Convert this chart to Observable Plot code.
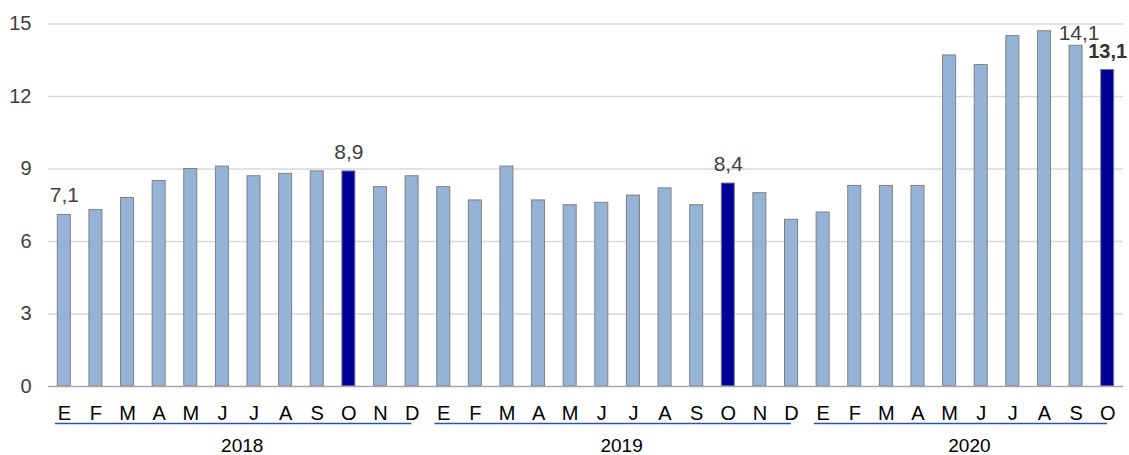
<!DOCTYPE html>
<html>
<head>
<meta charset="utf-8">
<script src="https://cdn.jsdelivr.net/npm/d3@7"></script>
<script src="https://cdn.jsdelivr.net/npm/@observablehq/plot@0.6"></script>
<style>
  html, body { margin: 0; padding: 0; background: #fff; }
  #chart svg { display: block; }
</style>
</head>
<body>
<div id="chart"></div>
<script>
// ---- data ----
const years = ["2018", "2019", "2020"];
const months2018 = ["E", "F", "M", "A", "M", "J", "J", "A", "S", "O", "N", "D"];
const months2019 = ["E", "F", "M", "A", "M", "J", "J", "A", "S", "O", "N", "D"];
const months2020 = ["E", "F", "M", "A", "M", "J", "J", "A", "S", "O"];
const values2018 = [7.1, 7.3, 7.8, 8.5, 9.0, 9.1, 8.7, 8.8, 8.9, 8.9, 8.25, 8.7];
const values2019 = [8.25, 7.7, 9.1, 7.7, 7.5, 7.6, 7.9, 8.2, 7.5, 8.4, 8.0, 6.9];
const values2020 = [7.2, 8.3, 8.3, 8.3, 13.7, 13.3, 14.5, 14.7, 14.1, 13.1];
const yTicks = [0, 3, 6, 9, 12, 15];
const highlightMonth = "O";
const labelKeys = ["2018-0", "2018-9", "2019-9"];
const topLabelKeys = ["2020-8"];
const boldLabelKeys = ["2020-9"];

// ---- build table ----
const monthsByYear = [months2018, months2019, months2020];
const valuesByYear = [values2018, values2019, values2020];
const rows = [];
years.forEach((yr, j) => {
  monthsByYear[j].forEach((m, i) => {
    rows.push({ key: `${yr}-${i}`, year: yr, month: m, value: valuesByYear[j][i] });
  });
});
const monthOf = new Map(rows.map(d => [d.key, d.month]));
const fmt = v => v.toFixed(1).replace(".", ",");

const width = 1129, height = 455;
const marginLeft = 48, marginRight = 6, marginTop = 23.5, marginBottom = 69;
const step = (width - marginLeft - marginRight) / rows.length;

const yearSpans = years.map((yr, j) => {
  const n = monthsByYear[j].length;
  return {
    year: yr,
    first: `${yr}-0`,
    last: `${yr}-${n - 1}`,
    mid: `${yr}-${Math.floor(n / 2)}`,
    even: n % 2 === 0
  };
});

const light = "#95b3d7", dark = "#000099", edge = "#808080";

const chart = Plot.plot({
  width, height, marginLeft, marginRight, marginTop, marginBottom,
  style: { fontFamily: "'Liberation Sans', Arial, sans-serif", background: "#fff", overflow: "visible" },
  x: { type: "band", domain: rows.map(d => d.key), padding: 0, round: false, label: null },
  y: { domain: [0, 15], label: null },
  marks: [
    Plot.gridY(yTicks.filter(t => t > 0), { stroke: "#d9d9d9", strokeOpacity: 1, strokeWidth: 1.5 }),
    Plot.barY(rows.filter(d => d.month !== highlightMonth), {
      x: "key", y: "value", fill: light, stroke: edge, strokeWidth: 1, insetLeft: 9.3, insetRight: 9.3
    }),
    Plot.barY(rows.filter(d => d.month === highlightMonth), {
      x: "key", y: "value", fill: dark, stroke: edge, strokeWidth: 1, insetLeft: 9.3, insetRight: 9.3
    }),
    Plot.ruleY([0], { stroke: "#a6a6a6", strokeWidth: 1.5 }),
    Plot.axisY({ ticks: yTicks, tickSize: 0, tickPadding: 17, fontSize: 20, color: "#404040", label: null }),
    Plot.axisX({ tickSize: 0, tickPadding: 19, fontSize: 20, color: "#000", tickFormat: k => monthOf.get(k), label: null }),
    Plot.ruleY(yearSpans, {
      x1: "first", x2: "last", y: () => 0, dy: 37, stroke: "#2453c0", strokeWidth: 1.5, insetLeft: 7, insetRight: 16
    }),
    Plot.text(yearSpans, {
      x: "mid", y: () => 0, dy: 59, text: "year", fontSize: 19, fill: "#000"
    }),
    Plot.text(rows.filter(d => labelKeys.includes(d.key)), {
      x: "key", y: "value", text: d => fmt(d.value), dy: -12.5, lineAnchor: "bottom", fontSize: 21, fill: "#404040"
    }),
    Plot.text(rows.filter(d => topLabelKeys.includes(d.key)), {
      x: "key", y: "value", text: d => fmt(d.value), dy: -6, dx: 3, lineAnchor: "bottom", fontSize: 21, fill: "#404040"
    }),
    Plot.text(rows.filter(d => boldLabelKeys.includes(d.key)), {
      x: "key", y: "value", text: d => fmt(d.value), dy: -11.5, lineAnchor: "bottom", fontSize: 20, fontWeight: "bold", fill: "#333"
    })
  ]
});

// shift year labels to the centre of each year's months
d3.select(chart).selectAll("g[aria-label='text']").filter((_, i) => i === 0)
  .selectAll("text").attr("dx", (_, i) => (yearSpans[i].even ? -step / 2 : 0) + 4);

document.getElementById("chart").appendChild(chart);
</script>
</body>
</html>
